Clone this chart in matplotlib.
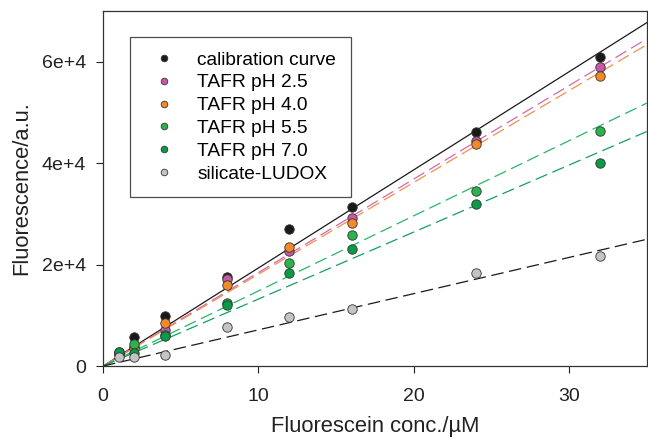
import numpy as np
import matplotlib
matplotlib.use('Agg')
import matplotlib.pyplot as plt

plt.rcParams['font.family'] = ['Liberation Sans', 'DejaVu Sans']

conc = [1, 2, 4, 8, 12, 16, 24, 32]

labels = ['calibration curve', 'TAFR pH 2.5', 'TAFR pH 4.0',
          'TAFR pH 5.5', 'TAFR pH 7.0', 'silicate-LUDOX']

calib = [2500, 5660, 9900, 17500, 27000, 31400, 46100, 61000]
ph25 = [2300, 3700, 7200, 17100, 22600, 29200, 44300, 59000]
ph40 = [2400, 3500, 8400, 15900, 23500, 28300, 43800, 57200]
ph55 = [2800, 4300, 6100, 12500, 20400, 25900, 34500, 46400]
ph70 = [2700, 2600, 6000, 12000, 18300, 23100, 32000, 40100]
ludox = [1800, 1700, 2170, 7800, 9700, 11250, 18350, 21650]

# slopes of the fitted lines (a.u. per uM)
slopes = [1934, 1843, 1810, 1481, 1321, 714]

series = [calib, ph25, ph40, ph55, ph70, ludox]
marker_colors = ['#1a1a1a', '#c558a8', '#f28a2a', '#2db34e', '#0b9a48', '#c4c4c4']
line_colors = ['#1a1a1a', '#d466b4', '#f0904a', '#25b866', '#12a060', '#1a1a1a']

fig = plt.figure(figsize=(6.48, 4.4), dpi=100)
ax = fig.add_axes([0.159, 0.168, 0.839, 0.807])

xfit = np.array([0, 35])
for i, ys in enumerate(series):
    ls = '-' if i == 0 else (0, (10, 4.5))
    ax.plot(xfit, slopes[i] * xfit, color=line_colors[i], lw=0.9,
            linestyle=ls, zorder=2)

for i, ys in enumerate(series):
    ax.plot(conc, ys, 'o', ms=6.8, mfc=marker_colors[i], mec='#333333',
            mew=0.6, label=labels[i], zorder=3)

ax.set_xlim(0, 35)
ax.set_ylim(0, 70000)
ax.set_xticks([0, 10, 20, 30])
ax.set_yticks([0, 20000, 40000, 60000])
ax.set_yticklabels(['0', '2e+4', '4e+4', '6e+4'])
ax.tick_params(direction='out', length=5, width=0.8, labelsize=14,
               colors='#222222')
ax.tick_params(axis='x', pad=11)
ax.tick_params(axis='y', pad=7)
for s in ax.spines.values():
    s.set_linewidth(0.9)
    s.set_color('#333333')

ax.set_xlabel('Fluorescein conc./\u00b5M', fontsize=15.8, color='#222222',
              labelpad=8)
ax.set_ylabel('Fluorescence/a.u.', fontsize=15.8, color='#222222',
              labelpad=7)

leg = ax.legend(loc='upper left', bbox_to_anchor=(0.05, 0.927),
                borderaxespad=0, fontsize=13.8, markerscale=0.7,
                handletextpad=0.75, handlelength=2.0, borderpad=0.75,
                labelspacing=0.28, fancybox=False, frameon=True)
leg.get_frame().set_edgecolor('#222222')
leg.get_frame().set_linewidth(0.9)

fig.savefig('out.png', dpi=100)
